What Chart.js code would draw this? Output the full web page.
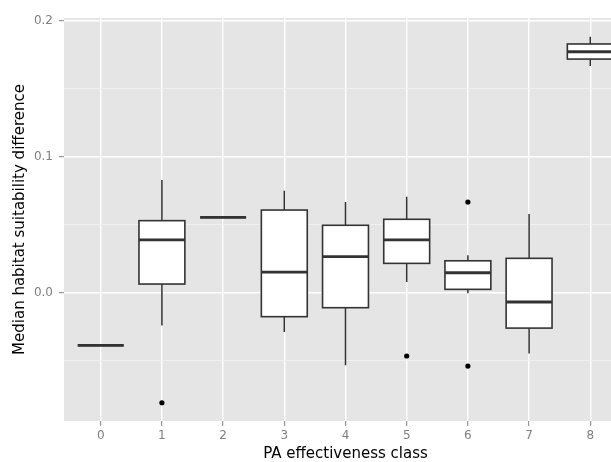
<!doctype html>
<html lang="en">

<head>
  <meta charset="utf-8">
  <style>
    * {
      margin: 0;
      padding: 0;
    }

    body {
      width: 611px;
      height: 462px;
      overflow: hidden;
      background: white;
    }

    canvas {
      display: block;
    }
  </style>
</head>

<body>
  <canvas id="myChart" width="631" height="462"></canvas>

  <script src="https://cdn.jsdelivr.net/npm/chart.js"></script>
  <script>
    // setup
    const classes = [0, 1, 2, 3, 4, 5, 6, 7, 8]
    const lowerWhisker = [-0.0387, -0.0240, 0.0554, -0.0289, -0.0534, 0.0079, -0.0004, -0.0446, 0.1667]
    const q1 = [-0.0387, 0.0064, 0.0554, -0.0176, -0.0110, 0.0216, 0.0025, -0.0260, 0.1718]
    const median = [-0.0387, 0.0388, 0.0554, 0.0152, 0.0265, 0.0388, 0.0147, -0.0068, 0.1772]
    const q3 = [-0.0387, 0.0530, 0.0554, 0.0608, 0.0496, 0.0540, 0.0235, 0.0253, 0.1829]
    const upperWhisker = [-0.0387, 0.0829, 0.0554, 0.0750, 0.0667, 0.0706, 0.0275, 0.0579, 0.1882]

    const outlierClass = [1, 5, 6, 6]
    const outlierValue = [-0.0809, -0.0465, 0.0667, -0.0539]

    const yMajor = [0, 0.1, 0.2]
    const yMajorLabels = ['0.0', '0.1', '0.2']
    const yMinor = [-0.05, 0.05, 0.15]

    const isMajor = v => yMajor.some(m => Math.abs(m - v) < 1e-9)
    const fontFamily = '"DejaVu Sans", sans-serif'

    // grey panel behind the grid
    const panelBg = {
      id: 'panelBg',
      beforeDraw(chart) {
        const { ctx, chartArea: a } = chart
        ctx.save()
        ctx.fillStyle = '#E5E5E5'
        ctx.fillRect(a.left, a.top, a.right - a.left, a.bottom - a.top)
        ctx.restore()
      }
    }

    // boxes, whiskers and medians drawn through the scales
    const boxes = {
      id: 'boxes',
      beforeDatasetsDraw(chart) {
        const ctx = chart.ctx
        const x = chart.scales.x
        const y = chart.scales.y
        ctx.save()
        ctx.strokeStyle = '#333333'
        ctx.lineCap = 'butt'
        for (let i = 0; i < classes.length; i++) {
          const cx = x.getPixelForValue(classes[i])
          const left = x.getPixelForValue(classes[i] - 0.375)
          const right = x.getPixelForValue(classes[i] + 0.375)
          const top = y.getPixelForValue(q3[i])
          const bottom = y.getPixelForValue(q1[i])
          // whiskers
          ctx.lineWidth = 1.5
          ctx.beginPath()
          ctx.moveTo(cx, y.getPixelForValue(upperWhisker[i]))
          ctx.lineTo(cx, top)
          ctx.moveTo(cx, bottom)
          ctx.lineTo(cx, y.getPixelForValue(lowerWhisker[i]))
          ctx.stroke()
          // box
          ctx.lineWidth = 1.6
          ctx.fillStyle = 'white'
          ctx.fillRect(left, top, right - left, bottom - top)
          ctx.strokeRect(left, top, right - left, bottom - top)
          // median
          ctx.lineWidth = 2.8
          ctx.beginPath()
          const my = y.getPixelForValue(median[i])
          ctx.moveTo(left, my)
          ctx.lineTo(right, my)
          ctx.stroke()
        }
        ctx.restore()
      }
    }

    // config
    const data = {
      datasets: [{
        label: 'outliers',
        data: outlierClass.map((c, i) => ({ x: c, y: outlierValue[i] })),
        backgroundColor: 'black',
        borderColor: 'black',
        pointRadius: 2.6,
        pointBorderWidth: 0
      }]
    }

    const config = {
      type: 'scatter',
      data,
      options: {
        responsive: false,
        animation: false,
        layout: { padding: { top: 18, left: 0, right: 0, bottom: 0 } },
        plugins: {
          legend: { display: false },
          tooltip: { enabled: false }
        },
        scales: {
          x: {
            type: 'linear',
            min: -0.6,
            max: 8.6,
            afterBuildTicks: s => { s.ticks = classes.map(v => ({ value: v })) },
            afterFit: s => {
              s.height = 41
              s.paddingLeft = 0
              s.paddingRight = 0
            },
            border: { display: false },
            grid: {
              color: 'white',
              lineWidth: 1.4,
              tickColor: '#7F7F7F',
              tickLength: 5,
              tickWidth: 1
            },
            ticks: {
              color: '#7F7F7F',
              font: { family: fontFamily, size: 12 },
              padding: 3,
              maxRotation: 0,
              autoSkip: false,
              callback: v => String(v)
            },
            title: {
              display: true,
              text: 'PA effectiveness class',
              color: 'black',
              font: { family: fontFamily, size: 15, lineHeight: 1 },
              padding: { top: 0, bottom: 0 }
            }
          },
          y: {
            type: 'linear',
            min: -0.0943,
            max: 0.202,
            afterBuildTicks: s => {
              s.ticks = yMinor.concat(yMajor).sort((a, b) => a - b).map(v => ({ value: v }))
            },
            afterFit: s => {
              s.width = 64
              s.paddingTop = 0
              s.paddingBottom = 0
            },
            border: { display: false },
            grid: {
              color: c => isMajor(c.tick.value) ? 'white' : '#F2F2F2',
              lineWidth: c => isMajor(c.tick.value) ? 1.4 : 0.8,
              tickColor: c => isMajor(c.tick.value) ? '#7F7F7F' : 'rgba(0,0,0,0)',
              tickLength: 5,
              tickWidth: 1
            },
            ticks: {
              color: '#7F7F7F',
              font: { family: fontFamily, size: 12 },
              padding: 6,
              autoSkip: false,
              callback: v => {
                const k = yMajor.findIndex(m => Math.abs(m - v) < 1e-9)
                return k >= 0 ? yMajorLabels[k] : ''
              }
            },
            title: {
              display: true,
              text: 'Median habitat suitability difference',
              color: 'black',
              font: { family: fontFamily, size: 15, lineHeight: 1 },
              padding: { top: 13, bottom: 0 }
            }
          }
        }
      },
      plugins: [panelBg, boxes]
    }

    // render init block
    const myChart = new Chart(
      document.getElementById('myChart'),
      config
    )
  </script>
</body>

</html>
